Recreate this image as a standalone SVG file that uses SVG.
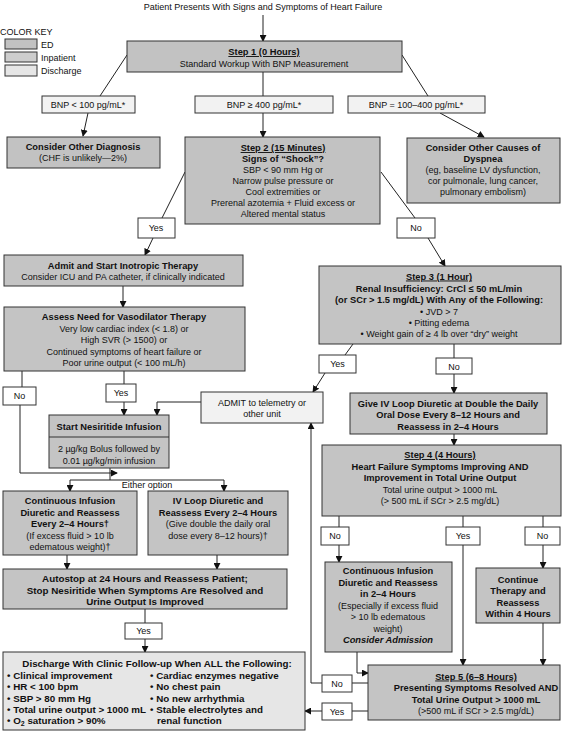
<svg xmlns="http://www.w3.org/2000/svg" width="562" height="732" viewBox="0 0 562 732">
<style>
text{font-family:"Liberation Sans",Arial,sans-serif;font-size:9px;fill:#111;text-anchor:middle}
.b{font-weight:bold;font-size:9.3px}
.big{font-size:9.8px}
.l{text-anchor:start}
.u{text-decoration:underline}
.ed{fill:#c2c2c2;stroke:#333;stroke-width:1}
.ip{fill:#c4c4c4;stroke:#333;stroke-width:1}
.dc{fill:#e6e6e6;stroke:#333;stroke-width:1}
.bnp{fill:#f2f2f2;stroke:#333;stroke-width:1}
.yn{fill:#ffffff;stroke:#333;stroke-width:1}
#connectors path{fill:none;stroke:#222;stroke-width:1}
.a{marker-end:url(#arr)}
</style>
<defs>
<marker id="arr" viewBox="0 0 8 8" refX="7" refY="4" markerWidth="7" markerHeight="7" markerUnits="userSpaceOnUse" orient="auto">
<path d="M0,0 L8,4 L0,8 z" fill="#111"/>
</marker>
</defs>
<rect width="562" height="732" fill="#ffffff"/>

<g id="title"><text x="263" y="10">Patient Presents With Signs and Symptoms of Heart Failure</text></g>

<g id="colorkey">
<text class="l" x="0" y="34.5">COLOR KEY</text>
<rect class="ed" x="5" y="39" width="32" height="10"/><text class="l" x="41" y="47.5">ED</text>
<rect class="ip" x="5" y="52" width="32" height="10" style="fill:#cdcdcd"/><text class="l" x="41" y="60.5">Inpatient</text>
<rect class="dc" x="5" y="65" width="32" height="11"/><text class="l" x="41" y="74">Discharge</text>
</g>

<g id="connectors">
<path class="a" d="M263,15 V41"/>
<path d="M127,55 L100,96"/>
<path d="M263,72 V96"/>
<path d="M402,55 L428,96"/>
<path class="a" d="M88,113 L83,136"/>
<path class="a" d="M263,113 V137"/>
<path class="a" d="M440,113 L484,137"/>
<path d="M185,172 L162,218"/>
<path class="a" d="M153,238 L145,255"/>
<path d="M381,172 L415,218"/>
<path class="a" d="M428,238 L445,266"/>
<path class="a" d="M123,286 V307"/>
<path d="M22,371 V387"/>
<path d="M124,371 V384"/>
<path class="a" d="M124,402 V415"/>
<path class="a" d="M201,402 H157 V415"/>
<path class="a" d="M20,405 V473 H117"/>
<path d="M110,468 V480"/>
<path d="M70,480 H224"/>
<path class="a" d="M70,480 V491"/>
<path class="a" d="M224,480 V491"/>
<path class="a" d="M67,555 V569"/>
<path class="a" d="M217,555 V569"/>
<path d="M145,609 V623"/>
<path class="a" d="M145,639 V652"/>
<path d="M353,344 L345,355"/>
<path class="a" d="M325,373 L313,392"/>
<path d="M454,344 V358"/>
<path class="a" d="M454,374 V393"/>
<path class="a" d="M454,434 V445"/>
<path d="M339,516 V527"/>
<path class="a" d="M339,545 V562"/>
<path d="M463,516 V527"/>
<path class="a" d="M463,545 V665"/>
<path d="M543,516 V527"/>
<path class="a" d="M543,545 V568"/>
<path class="a" d="M543,623 V665"/>
<path class="a" d="M357,652 V673 H368"/>
<path d="M368,683 H352"/>
<path class="a" d="M322,683 H311 V423"/>
<path d="M368,711 H352"/>
<path class="a" d="M322,711 H305"/>
</g>

<g id="step1">
<rect class="ed" x="127" y="41" width="275" height="31"/>
<text class="b u" x="264" y="55">Step 1 (0 Hours)</text>
<text x="264" y="66.5">Standard Workup With BNP Measurement</text>
</g>

<g id="bnp-low"><rect class="bnp" x="42" y="96" width="93" height="17"/><text x="88" y="107.5">BNP &lt; 100 pg/mL*</text></g>
<g id="bnp-high"><rect class="bnp" x="195" y="96" width="138" height="17"/><text x="264" y="107.5">BNP ≥ 400 pg/mL*</text></g>
<g id="bnp-mid"><rect class="bnp" x="348" y="96" width="137" height="17"/><text x="416" y="107.5">BNP = 100–400 pg/mL*</text></g>

<g id="other-diagnosis">
<rect class="ed" x="7" y="137" width="153" height="31"/>
<text class="b" x="83" y="149.5">Consider Other Diagnosis</text>
<text x="83" y="161">(CHF is unlikely—2%)</text>
</g>

<g id="step2">
<rect class="ed" x="185" y="137" width="195" height="87"/>
<text class="b u" x="283" y="151">Step 2 (15 Minutes)</text>
<text class="b" x="283" y="161.5">Signs of “Shock”?</text>
<text x="283" y="172.5">SBP &lt; 90 mm Hg or</text>
<text x="283" y="183.5">Narrow pulse pressure or</text>
<text x="283" y="194.5">Cool extremities or</text>
<text x="283" y="205.5">Prerenal azotemia + Fluid excess or</text>
<text x="283" y="216.5">Altered mental status</text>
</g>

<g id="other-causes">
<rect class="ed" x="407" y="138" width="153" height="65"/>
<text class="b" x="483" y="151">Consider Other Causes of</text>
<text class="b" x="483" y="162">Dyspnea</text>
<text x="483" y="173">(eg, baseline LV dysfunction,</text>
<text x="483" y="184">cor pulmonale, lung cancer,</text>
<text x="483" y="195">pulmonary embolism)</text>
</g>

<g id="step2-yes"><rect class="yn" x="138" y="218" width="37" height="20"/><text x="156" y="231">Yes</text></g>
<g id="step2-no"><rect class="yn" x="397" y="218" width="38" height="20"/><text x="416" y="231">No</text></g>

<g id="admit-inotropic">
<rect class="ip" x="4" y="255" width="239" height="31"/>
<text class="b" x="123" y="268.5">Admit and Start Inotropic Therapy</text>
<text x="123" y="280">Consider ICU and PA catheter, if clinically indicated</text>
</g>

<g id="assess-vasodilator">
<rect class="ip" x="4" y="307" width="241" height="64"/>
<text class="b" x="124" y="320">Assess Need for Vasodilator Therapy</text>
<text x="124" y="331.5">Very low cardiac index (&lt; 1.8) or</text>
<text x="124" y="343">High SVR (&gt; 1500) or</text>
<text x="124" y="354.5">Continued symptoms of heart failure or</text>
<text x="124" y="366">Poor urine output (&lt; 100 mL/h)</text>
</g>

<g id="assess-no"><rect class="yn" x="3" y="387" width="33" height="18"/><text x="19.5" y="399">No</text></g>
<g id="assess-yes"><rect class="yn" x="106" y="384" width="30" height="18"/><text x="121" y="396">Yes</text></g>

<g id="nesiritide">
<rect class="ip" x="49" y="415" width="120" height="53"/>
<line x1="49" y1="437" x2="169" y2="437" stroke="#333" stroke-width="1"/>
<text class="b" x="109" y="429.5">Start Nesiritide Infusion</text>
<text x="109" y="451.5">2 µg/kg Bolus followed by</text>
<text x="109" y="463.5">0.01 µg/kg/min infusion</text>
</g>

<g id="either-option"><text x="147" y="487.5">Either option</text></g>

<g id="admit-telemetry">
<rect class="bnp" x="201" y="392" width="122" height="31"/>
<text x="262" y="405.5">ADMIT to telemetry or</text>
<text x="262" y="417">other unit</text>
</g>

<g id="continuous-left">
<rect class="ip" x="3" y="491" width="134" height="64"/>
<text class="b" x="70" y="504">Continuous Infusion</text>
<text class="b" x="70" y="515.5">Diuretic and Reassess</text>
<text class="b" x="70" y="527">Every 2–4 Hours†</text>
<text x="70" y="538.5">(If excess fluid &gt; 10 lb</text>
<text x="70" y="550">edematous weight)†</text>
</g>

<g id="iv-loop-left">
<rect class="ip" x="148" y="491" width="140" height="64"/>
<text class="b" x="218" y="504">IV Loop Diuretic and</text>
<text class="b" x="218" y="515.5">Reassess Every 2–4 Hours</text>
<text x="218" y="527">(Give double the daily oral</text>
<text x="218" y="538.5">dose every 8–12 hours)†</text>
</g>

<g id="autostop">
<rect class="ip" x="3" y="569" width="284" height="40"/>
<text class="b big" x="145" y="582">Autostop at 24 Hours and Reassess Patient;</text>
<text class="b big" x="145" y="593.5">Stop Nesiritide When Symptoms Are Resolved and</text>
<text class="b big" x="145" y="605">Urine Output Is Improved</text>
</g>

<g id="autostop-yes"><rect class="yn" x="125" y="623" width="37" height="16"/><text x="143.5" y="634">Yes</text></g>

<g id="discharge">
<rect class="dc" x="3" y="652" width="302" height="78"/>
<text class="b big" x="157" y="667">Discharge With Clinic Follow-up When ALL the Following:</text>
<text class="b big l" x="7" y="678.5">• Clinical improvement</text>
<text class="b big l" x="7" y="690">• HR &lt; 100 bpm</text>
<text class="b big l" x="7" y="701.5">• SBP &gt; 80 mm Hg</text>
<text class="b big l" x="7" y="712.5">• Total urine output &gt; 1000 mL</text>
<text class="b big l" x="7" y="723.5">• O<tspan font-size="7" dy="2">2</tspan><tspan dy="-2"> saturation &gt; 90%</tspan></text>
<text class="b big l" x="150" y="678.5">• Cardiac enzymes negative</text>
<text class="b big l" x="150" y="690">• No chest pain</text>
<text class="b big l" x="150" y="701.5">• No new arrhythmia</text>
<text class="b big l" x="150" y="712.5">• Stable electrolytes and</text>
<text class="b big l" x="157" y="723.5">renal function</text>
</g>

<g id="step3">
<rect class="ip" x="319" y="266" width="242" height="78"/>
<text class="b u" x="439" y="279.5">Step 3 (1 Hour)</text>
<text class="b" x="439" y="291.5">Renal Insufficiency: CrCl ≤ 50 mL/min</text>
<text class="b" x="439" y="303">(or SCr &gt; 1.5 mg/dL) With Any of the Following:</text>
<text x="439" y="314.5">• JVD &gt; 7</text>
<text x="439" y="325.5">• Pitting edema</text>
<text x="439" y="337">• Weight gain of ≥ 4 lb over “dry” weight</text>
</g>

<g id="step3-yes"><rect class="yn" x="319" y="355" width="37" height="18"/><text x="337.5" y="367">Yes</text></g>
<g id="step3-no"><rect class="yn" x="436" y="358" width="36" height="16"/><text x="454" y="369.5">No</text></g>

<g id="give-iv">
<rect class="ip" x="350" y="393" width="197" height="41"/>
<text class="b" x="448" y="406.5">Give IV Loop Diuretic at Double the Daily</text>
<text class="b" x="448" y="418">Oral Dose Every 8–12 Hours and</text>
<text class="b" x="448" y="429.5">Reassess in 2–4 Hours</text>
</g>

<g id="step4">
<rect class="ip" x="322" y="445" width="239" height="71"/>
<text class="b u" x="440" y="458">Step 4 (4 Hours)</text>
<text class="b" x="440" y="469.5">Heart Failure Symptoms Improving AND</text>
<text class="b" x="440" y="481">Improvement in Total Urine Output</text>
<text x="440" y="492.5">Total urine output &gt; 1000 mL</text>
<text x="440" y="504">(&gt; 500 mL if SCr &gt; 2.5 mg/dL)</text>
</g>

<g id="step4-no-left"><rect class="yn" x="321" y="527" width="28" height="18"/><text x="335" y="539">No</text></g>
<g id="step4-yes"><rect class="yn" x="446" y="527" width="34" height="18"/><text x="463" y="539">Yes</text></g>
<g id="step4-no-right"><rect class="yn" x="525" y="527" width="35" height="18"/><text x="542.5" y="539">No</text></g>

<g id="continuous-mid">
<rect class="ip" x="325" y="562" width="127" height="90"/>
<text class="b" x="388" y="574">Continuous Infusion</text>
<text class="b" x="388" y="585.5">Diuretic and Reassess</text>
<text class="b" x="388" y="597">in 2–4 Hours</text>
<text x="388" y="608.5">(Especially if excess fluid</text>
<text x="388" y="620">&gt; 10 lb edematous</text>
<text x="388" y="631.5">weight)</text>
<text class="b" x="388" y="643" font-style="italic">Consider Admission</text>
</g>

<g id="continue-therapy">
<rect class="ip" x="476" y="568" width="84" height="55"/>
<text class="b" x="518" y="582.5">Continue</text>
<text class="b" x="518" y="594">Therapy and</text>
<text class="b" x="518" y="605.5">Reassess</text>
<text class="b" x="518" y="617">Within 4 Hours</text>
</g>

<g id="step5">
<rect class="ip" x="368" y="665" width="192" height="55"/>
<text class="b u" x="476" y="679.5">Step 5 (6–8 Hours)</text>
<text class="b" x="476" y="691">Presenting Symptoms Resolved AND</text>
<text class="b" x="476" y="702.5">Total Urine Output &gt; 1000 mL</text>
<text x="476" y="714">(&gt;500 mL if SCr &gt; 2.5 mg/dL)</text>
</g>

<g id="step5-no"><rect class="yn" x="322" y="675" width="30" height="17"/><text x="337" y="686.5">No</text></g>
<g id="step5-yes"><rect class="yn" x="322" y="703" width="30" height="17"/><text x="337" y="714.5">Yes</text></g>
</svg>
